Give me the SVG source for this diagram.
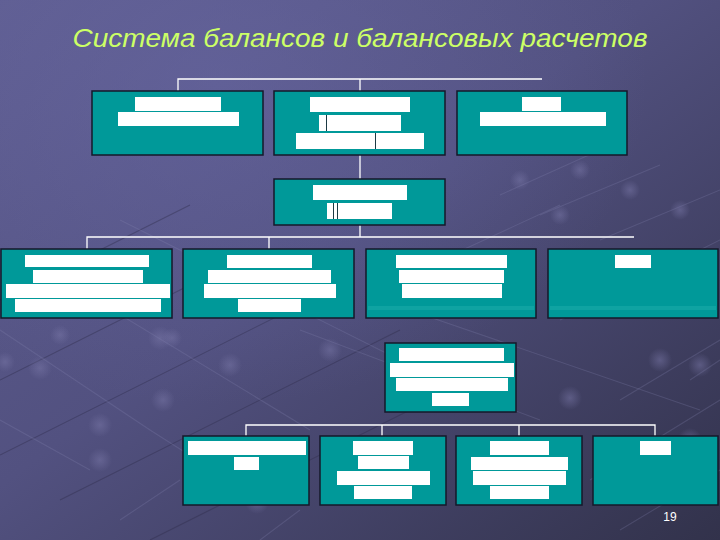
<svg xmlns="http://www.w3.org/2000/svg" width="720" height="540" viewBox="0 0 720 540">
  <defs>
    <linearGradient id="bg" x1="0" y1="0" x2="1" y2="1">
      <stop offset="0" stop-color="#5e5d90"/>
      <stop offset="0.45" stop-color="#525180"/>
      <stop offset="1" stop-color="#32324b"/>
    </linearGradient>
    <radialGradient id="glow" cx="0.3" cy="0.15" r="0.6">
      <stop offset="0" stop-color="#6a69a6" stop-opacity="0.5"/>
      <stop offset="1" stop-color="#6a69a6" stop-opacity="0"/>
    </radialGradient>
    <radialGradient id="knot">
      <stop offset="0" stop-color="#7a78a8" stop-opacity="0.5"/>
      <stop offset="1" stop-color="#7a78a8" stop-opacity="0"/>
    </radialGradient>
  </defs>
  <style>
    .box { fill: #009999; stroke: #14182a; stroke-width: 1.5; }
    .bar { fill: #ffffff; }
    .cut { stroke: #1d3a44; stroke-width: 1; }
    .con { fill: none; stroke: #ffffff; stroke-width: 1.3; }
    .net { stroke: #8886b4; stroke-width: 1.1; opacity: 0.25; fill: none; }
    .netd { stroke: #2c2b48; stroke-width: 1.1; opacity: 0.4; fill: none; }
    .title { font-family: "Liberation Sans", Arial, sans-serif; font-style: italic; font-size: 26px; fill: #ccff66; }
    .num { font-family: "Liberation Sans", Arial, sans-serif; font-size: 12px; fill: #ffffff; }
  </style>

  <!-- background -->
  <rect x="0" y="0" width="720" height="540" fill="url(#bg)"/>
  <rect x="0" y="0" width="720" height="540" fill="url(#glow)"/>

  <!-- faint network pattern -->
  <g id="pattern">
    <path class="netd" d="M0 380 L250 255 M0 455 L330 290 M60 500 L400 330 M150 540 L470 380 M0 300 L190 205"/>
    <path class="net" d="M0 330 L150 430 L260 500 M30 260 L310 430 M120 220 L400 360 M0 420 L90 470 M300 330 L540 420 M380 300 L700 410"/>
    <path class="net" d="M500 195 L600 150 M540 215 L660 165 M600 240 L720 190 M430 265 L560 205 M560 320 L720 240 M620 400 L720 340 M690 380 L720 360 M590 480 L720 400"/>
    <path class="net" d="M120 520 L180 480 M620 530 L720 470 M260 540 L300 510"/>
    <g fill="url(#knot)">
      <circle cx="40" cy="368" r="12"/><circle cx="100" cy="460" r="12"/><circle cx="100" cy="425" r="12"/>
      <circle cx="160" cy="338" r="12"/><circle cx="163" cy="400" r="12"/><circle cx="172" cy="338" r="10"/>
      <circle cx="5" cy="362" r="10"/><circle cx="60" cy="335" r="10"/><circle cx="230" cy="365" r="12"/>
      <circle cx="330" cy="350" r="12"/><circle cx="257" cy="502" r="12"/><circle cx="570" cy="398" r="12"/>
      <circle cx="580" cy="170" r="10"/><circle cx="630" cy="190" r="10"/><circle cx="680" cy="210" r="10"/>
      <circle cx="560" cy="215" r="10"/><circle cx="520" cy="180" r="10"/><circle cx="660" cy="360" r="12"/>
      <circle cx="700" cy="365" r="12"/><circle cx="690" cy="440" r="12"/><circle cx="640" cy="280" r="10"/>
      <circle cx="570" cy="460" r="12"/>
    </g>
  </g>

  <!-- title -->
  <text class="title" x="360" y="47" text-anchor="middle" textLength="575" lengthAdjust="spacingAndGlyphs">Система балансов и балансовых расчетов</text>

  <!-- connectors -->
  <g id="connectors">
    <path class="con" d="M178 91 V79 H542 M360 79 V91"/>
    <path class="con" d="M360 155 V179"/>
    <path class="con" d="M360 225 V237 M87 249 V237 H634 M269 237 V249"/>
    <path class="con" d="M246 436 V425 H655 V436 M382 425 V436 M519 425 V436"/>
  </g>

  <!-- row 1 -->
  <g id="n1">
    <rect class="box" x="92" y="91" width="171" height="64"/>
    <rect class="bar" x="135" y="97" width="86" height="14"/>
    <rect class="bar" x="118" y="112" width="121" height="14"/>
  </g>
  <g id="n2">
    <rect class="box" x="274" y="91" width="171" height="64"/>
    <rect class="bar" x="310" y="97" width="100" height="15"/>
    <rect class="bar" x="319" y="115" width="82" height="16"/>
    <line class="cut" x1="326.5" y1="115" x2="326.5" y2="131"/>
    <rect class="bar" x="296" y="133" width="128" height="16"/>
    <line class="cut" x1="375.5" y1="133" x2="375.5" y2="149"/>
  </g>
  <g id="n3">
    <rect class="box" x="457" y="91" width="170" height="64"/>
    <rect class="bar" x="522" y="97" width="39" height="14"/>
    <rect class="bar" x="480" y="112" width="126" height="14"/>
  </g>

  <!-- row 2 -->
  <g id="n4">
    <rect class="box" x="274" y="179" width="171" height="46"/>
    <rect class="bar" x="313" y="185" width="94" height="15"/>
    <rect class="bar" x="327" y="203" width="65" height="16"/>
    <line class="cut" x1="333.5" y1="203" x2="333.5" y2="219"/>
    <line class="cut" x1="337.5" y1="203" x2="337.5" y2="219"/>
  </g>

  <!-- row 3 -->
  <g id="n5">
    <rect class="box" x="1" y="249" width="171" height="69"/>
    <rect class="bar" x="25" y="255" width="124" height="12"/>
    <rect class="bar" x="33" y="270" width="110" height="13"/>
    <rect class="bar" x="6" y="284" width="164" height="14"/>
    <rect class="bar" x="15" y="299" width="146" height="13"/>
  </g>
  <g id="n6">
    <rect class="box" x="183" y="249" width="171" height="69"/>
    <rect class="bar" x="227" y="255" width="85" height="13"/>
    <rect class="bar" x="208" y="270" width="123" height="13"/>
    <rect class="bar" x="204" y="284" width="132" height="14"/>
    <rect class="bar" x="238" y="299" width="63" height="13"/>
  </g>
  <g id="n7">
    <rect class="box" x="366" y="249" width="170" height="69"/>
    <rect x="368" y="306" width="166" height="4" fill="#0fa3a2"/>
    <rect class="bar" x="396" y="255" width="111" height="13"/>
    <rect class="bar" x="399" y="270" width="105" height="13"/>
    <rect class="bar" x="402" y="284" width="100" height="14"/>
  </g>
  <g id="n8">
    <rect class="box" x="548" y="249" width="170" height="69"/>
    <rect x="550" y="306" width="166" height="4" fill="#0fa3a2"/>
    <rect class="bar" x="615" y="255" width="36" height="13"/>
  </g>

  <!-- row 4 -->
  <g id="n9">
    <rect class="box" x="385" y="343" width="131" height="69"/>
    <rect class="bar" x="399" y="348" width="105" height="13"/>
    <rect class="bar" x="390" y="363" width="124" height="14"/>
    <rect class="bar" x="396" y="378" width="112" height="13"/>
    <rect class="bar" x="432" y="393" width="37" height="13"/>
  </g>

  <!-- row 5 -->
  <g id="n10">
    <rect class="box" x="183" y="436" width="126" height="69"/>
    <rect class="bar" x="188" y="441" width="118" height="14"/>
    <rect class="bar" x="234" y="457" width="25" height="13"/>
  </g>
  <g id="n11">
    <rect class="box" x="320" y="436" width="126" height="69"/>
    <rect class="bar" x="353" y="441" width="60" height="14"/>
    <rect class="bar" x="358" y="456" width="51" height="13"/>
    <rect class="bar" x="337" y="471" width="93" height="14"/>
    <rect class="bar" x="354" y="486" width="58" height="13"/>
  </g>
  <g id="n12">
    <rect class="box" x="456" y="436" width="126" height="69"/>
    <rect class="bar" x="490" y="441" width="59" height="14"/>
    <rect class="bar" x="471" y="457" width="97" height="13"/>
    <rect class="bar" x="473" y="471" width="93" height="14"/>
    <rect class="bar" x="490" y="486" width="59" height="13"/>
  </g>
  <g id="n13">
    <rect class="box" x="593" y="436" width="125" height="69"/>
    <rect class="bar" x="640" y="441" width="31" height="14"/>
  </g>

  <!-- page number -->
  <text class="num" x="670" y="521" text-anchor="middle">19</text>
</svg>
